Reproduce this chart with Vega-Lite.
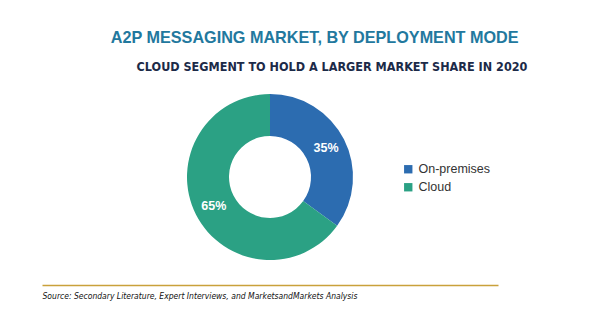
{
  "$schema": "https://vega.github.io/schema/vega-lite/v6.json",
  "background": "white",
  "padding": {"left": 42, "top": 30, "right": 10, "bottom": 5},
  "title": {
    "text": "A2P MESSAGING MARKET, BY DEPLOYMENT MODE",
    "anchor": "middle",
    "dx": 30,
    "fontSize": 16.2,
    "font": "Liberation Sans",
    "fontWeight": "bold",
    "color": "#22789e",
    "offset": 14
  },
  "spacing": 3,
  "vconcat": [
    {
      "width": 456,
      "height": 170,
      "title": {
        "text": "CLOUD SEGMENT TO HOLD A LARGER MARKET SHARE IN 2020",
        "anchor": "middle",
        "dx": 62,
        "fontSize": 12.5,
        "font": "DejaVu Sans Condensed",
        "fontWeight": "bold",
        "color": "#1c2a48",
        "offset": 19
      },
      "data": {"values": [
        {"mode": "On-premises", "share": 0.35},
        {"mode": "Cloud", "share": 0.65}
      ]},
      "view": {"stroke": null},
      "layer": [
        {
          "mark": {"type": "arc", "innerRadius": 41, "outerRadius": 83},
          "encoding": {
            "theta": {"field": "share", "type": "quantitative", "stack": true},
            "order": {"field": "share", "sort": "ascending"},
            "color": {
              "field": "mode",
              "type": "nominal",
              "scale": {"domain": ["On-premises", "Cloud"], "range": ["#2c6cb0", "#2ba184"]},
              "legend": {
                "orient": "none",
                "legendX": 360,
                "legendY": 71,
                "title": null,
                "symbolType": "square",
                "symbolSize": 70,
                "symbolStrokeWidth": 0,
                "labelFont": "Liberation Sans",
                "labelFontSize": 12.5,
                "labelColor": "#333333",
                "rowPadding": 5
              }
            }
          }
        },
        {
          "mark": {"type": "text", "radius": 63, "color": "white", "fontWeight": "bold", "fontSize": 12.5, "font": "Liberation Sans"},
          "encoding": {
            "theta": {"field": "share", "type": "quantitative", "stack": true},
            "order": {"field": "share", "sort": "ascending"},
            "text": {"field": "share", "type": "quantitative", "format": ".0%"}
          }
        }
      ]
    },
    {
      "width": 456,
      "height": 0,
      "data": {"values": [
        {"mode": "On-premises", "share": 0.35},
        {"mode": "Cloud", "share": 0.65}
      ]},
      "view": {"stroke": null},
      "mark": {"type": "point", "opacity": 0},
      "encoding": {
        "x": {
          "field": "share",
          "type": "quantitative",
          "axis": {
            "domainColor": "#c9a13b",
            "domainWidth": 1.5,
            "ticks": false,
            "labels": false,
            "grid": false,
            "title": "Source: Secondary Literature, Expert Interviews, and MarketsandMarkets Analysis",
            "titleAnchor": "start",
            "titleFont": "DejaVu Sans Condensed",
            "titleFontStyle": "italic",
            "titleFontWeight": "normal",
            "titleFontSize": 8.5,
            "titleColor": "#111111",
            "titlePadding": 6
          }
        }
      }
    }
  ]
}
